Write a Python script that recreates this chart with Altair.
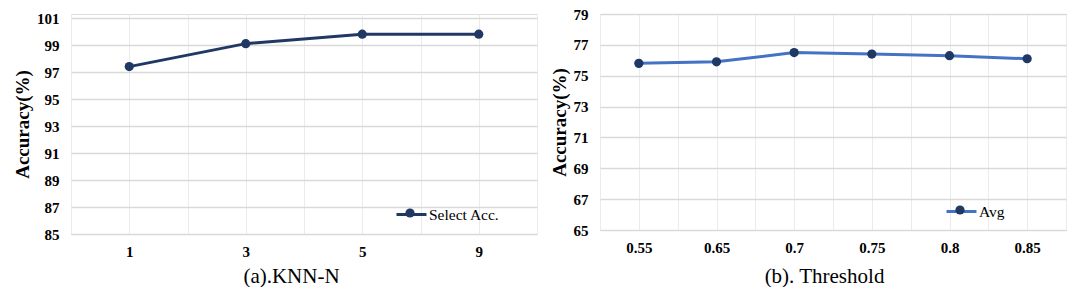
import altair as alt
import pandas as pd

# ---- data ----
knn_labels = ["1", "3", "5", "9"]
knn_acc = [97.4, 99.1, 99.8, 99.8]
knn_series = "Select Acc."

thr_labels = ["0.55", "0.65", "0.7", "0.75", "0.8", "0.85"]
thr_acc = [75.8, 75.9, 76.5, 76.4, 76.3, 76.1]
thr_series = "Avg"

FONT = "'Liberation Serif', 'Times New Roman', 'DejaVu Serif', serif"
NAVY = "#203864"
BLUE = "#4472C4"
PLOT_H = 216


def panel(labels, values, series, title, ydom, line_color, point_color,
          lx, ly, title_x, title_y, top_gap):
    n = len(labels)
    df = pd.DataFrame({
        "idx": list(range(n)),
        "acc": values,
        "series": [series] * n,
        "series_pt": [series] * n,
    })
    lab_arr = "[" + ",".join("'" + l + "'" for l in labels) + "]"
    xvals = [i * 0.5 - 0.5 for i in range(2 * n + 1)]
    h = PLOT_H + top_gap
    ytop = ydom[1] + (ydom[1] - ydom[0]) * top_gap / PLOT_H
    x = alt.X(
        "idx:Q",
        scale=alt.Scale(domain=[-0.5, n - 0.5], nice=False, zero=False),
        axis=alt.Axis(
            values=xvals,
            labelExpr="datum.value % 1 == 0 ? " + lab_arr + "[datum.value] : ''",
            grid=True, gridColor="#EBEBEB", gridWidth=1,
            domain=False, ticks=False, labelPadding=10,
            labelFont=FONT, labelFontSize=15, labelFontWeight="bold",
            labelColor="#000000", labelFlush=False, labelOverlap=False,
            title=title, titleFont=FONT, titleFontSize=21,
            titleFontWeight="normal", titleColor="#000000",
            titleX=title_x, titleY=title_y, titleBaseline="middle",
        ),
    )
    y = alt.Y(
        "acc:Q",
        scale=alt.Scale(domain=[ydom[0], ytop], nice=False, zero=False),
        axis=alt.Axis(
            values=list(range(ydom[0], ydom[1] + 1, 2)),
            grid=True, gridColor="#D9D9D9", gridWidth=1.3,
            domain=False, ticks=False, labelPadding=12,
            labelFont=FONT, labelFontSize=15, labelFontWeight="bold",
            labelColor="#000000",
            title="Accuracy(%)", titleFont=FONT, titleFontSize=19,
            titleFontWeight="bold", titleColor="#000000", titlePadding=4,
        ),
    )
    line = alt.Chart(df).mark_line(strokeWidth=3).encode(
        x=x, y=y,
        color=alt.Color(
            "series:N",
            scale=alt.Scale(range=[line_color]),
            legend=alt.Legend(
                orient="none", legendX=lx, legendY=ly, title=None,
                symbolType="stroke", symbolSize=900, symbolStrokeWidth=3,
                labelFont=FONT, labelFontSize=15.5, labelColor="#000000",
                labelOffset=1, padding=0,
            ),
        ),
    )
    pts = alt.Chart(df).mark_circle(size=85, opacity=1).encode(
        x=x, y=y,
        fill=alt.Fill(
            "series_pt:N",
            scale=alt.Scale(range=[point_color]),
            legend=alt.Legend(
                orient="none", legendX=lx + 10, legendY=ly + 10, title=None,
                symbolType="circle", symbolSize=85, symbolStrokeWidth=0,
                labelExpr="''", padding=0,
            ),
        ),
    )
    return alt.layer(line, pts).properties(width=466, height=h).resolve_scale(
        color="independent", fill="independent")


left = panel(knn_labels, knn_acc, knn_series, "(a).KNN-N", [85, 101],
             NAVY, NAVY, 324, 184, 220, 42, 4)
right = panel(thr_labels, thr_acc, thr_series, "(b). Threshold", [65, 79],
              BLUE, NAVY, 345, 181, 224, 46, 0)

chart = alt.hconcat(left, right, spacing=11).properties(
    padding={"left": 5, "top": -2, "right": 0, "bottom": 0}
).configure_view(fill="#F9F9F9", stroke=None).configure(background="#FFFFFF")

chart.save("out.html", embed_options={"renderer": "svg", "actions": False})
